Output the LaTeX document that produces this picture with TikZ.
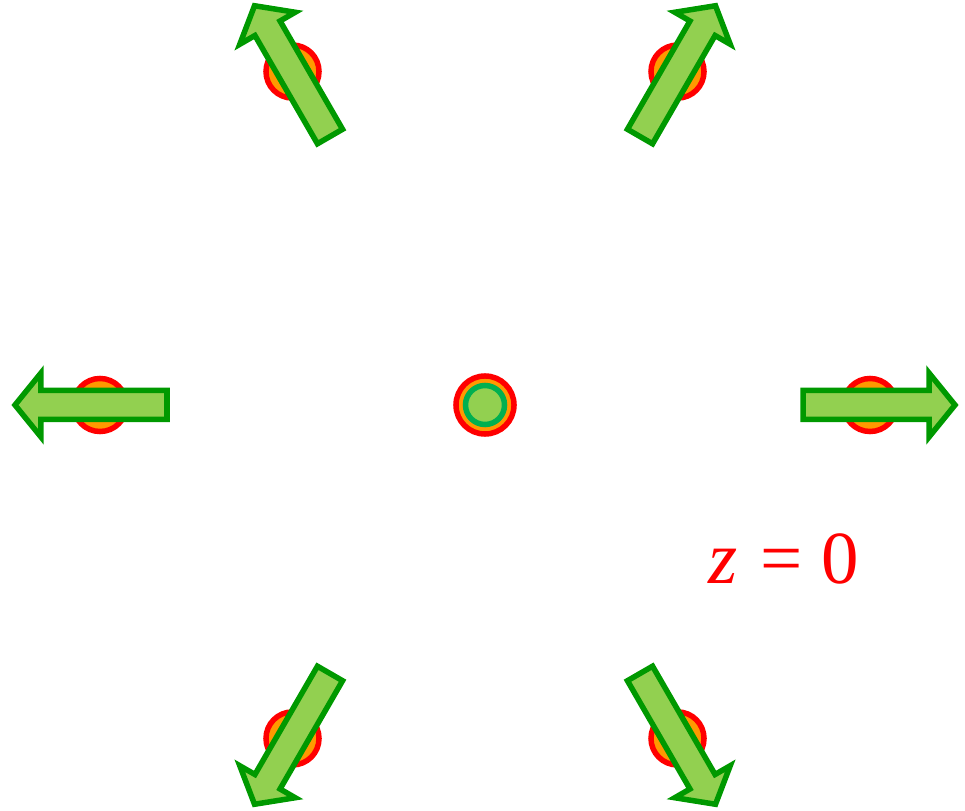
\documentclass[tikz,border=0pt]{standalone}
\definecolor{RingRed}{RGB}{255,0,0}
\definecolor{DotOrange}{RGB}{255,153,0}
\definecolor{ArrowGreen}{RGB}{146,208,80}
\definecolor{EdgeGreen}{RGB}{0,153,0}
\definecolor{CoreGreen}{RGB}{0,176,80}
\usepackage{fontspec}
\setmainfont{Liberation Serif}
\usepackage{tikz}
\usetikzlibrary{positioning}

\begin{document}
\begin{tikzpicture}[x=0.01cm, y=0.01cm,
    dot/.style={circle, inner sep=0pt, minimum size=0.53cm, draw=RingRed,
                fill=DotOrange, line width=0.055cm},
    core/.style={circle, inner sep=0pt, minimum size=0.39cm, draw=CoreGreen,
                 fill=ArrowGreen, line width=0.055cm},
    arrowbody/.style={draw=EdgeGreen, fill=ArrowGreen, line width=0.055cm,
                      line join=miter}]
    \useasboundingbox (-485,-405) rectangle (480,405);

    % centre particle
    \node[dot, minimum size=0.58cm] (ctr) at (0,0) {};
    \node[core] (ctrin) at (ctr) {};

    % particles on the ring
    \foreach \a [count=\i from 0] in {0,60,120,180,240,300}
      \node[dot] (p\i) at (\a:385) {};

    % outgoing arrows
    \foreach \a/\s/\t in {0/318/470,60/310/461,120/310/461,
                          180/318/470,240/310/461,300/310/461}{
      \begin{scope}[rotate=\a]
        \draw[arrowbody] (\s,-14.5) -- (\t-26,-14.5) -- (\t-26,-32) -- (\t,0)
          -- (\t-26,32) -- (\t-26,14.5) -- (\s,14.5) -- cycle;
      \end{scope}
    }

    % label
    \node[anchor=base, text=RingRed, inner sep=0pt,
          font=\fontsize{21.3}{26}\selectfont] (lbl) at (299,-178)
      {\textit{z}\hspace{0.3em}=\hspace{0.25em}0};
\end{tikzpicture}
\end{document}
